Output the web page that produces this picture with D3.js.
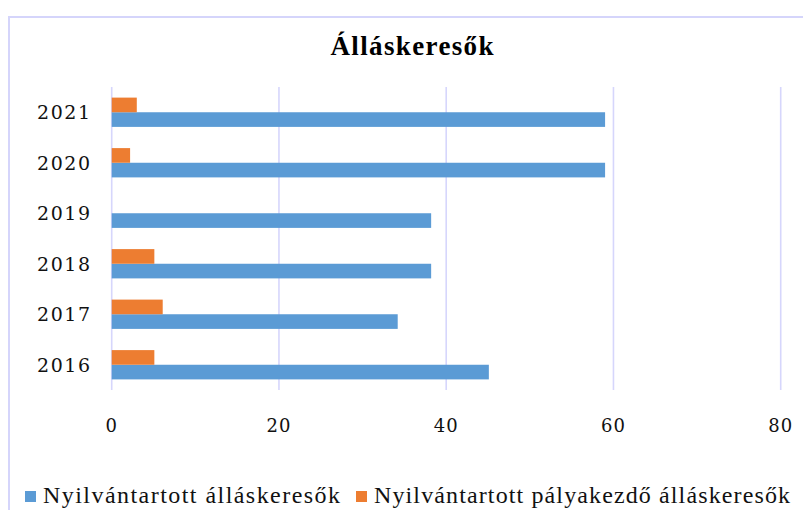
<!DOCTYPE html>
<html>
<head>
<meta charset="utf-8">
<script src="https://cdn.jsdelivr.net/npm/d3@7"></script>
<style>
  body { margin: 0; background: #fff; }
  svg { display: block; }
  .serif { font-family: "Liberation Serif", "Times New Roman", "DejaVu Serif", serif; }
  .digits { font-family: "DejaVu Serif", "Liberation Serif", serif; }
</style>
</head>
<body>
<script>
// data
var years = ["2016", "2017", "2018", "2019", "2020", "2021"];
var registered = [45.1, 34.2, 38.2, 38.2, 59, 59];      // Nyilvántartott álláskeresők
var newcomers = [5.1, 6.1, 5.1, 0, 2.2, 3.0];           // Nyilvántartott pályakezdő álláskeresők
var xTicks = [0, 20, 40, 60, 80];
var seriesNames = ["Nyilvántartott álláskeresők", "Nyilvántartott pályakezdő álláskeresők"];
var colors = ["#5b9bd5", "#ed7d31"];

var width = 803, height = 510;

var svg = d3.select("body").append("svg")
    .attr("width", width)
    .attr("height", height);

// chart frame (right & bottom edges fall outside the picture)
svg.append("rect")
    .attr("x", 9).attr("y", 17)
    .attr("width", 900).attr("height", 600)
    .attr("fill", "none")
    .attr("stroke", "#d5d5fb")
    .attr("stroke-width", 2);

// title
svg.append("text")
    .attr("class", "serif")
    .attr("x", 412).attr("y", 55)
    .attr("text-anchor", "middle")
    .attr("font-weight", "bold")
    .attr("font-size", 27)
    .attr("textLength", 163)
    .attr("lengthAdjust", "spacing")
    .text("Álláskeresők");

var x = d3.scaleLinear().domain([0, 80]).range([111.7, 780.7]);

var y = d3.scaleBand()
    .domain(years.slice().reverse())
    .range([87, 390])
    .paddingInner(0.42)
    .paddingOuter(0.21);

// gridlines
svg.append("g").selectAll("line")
    .data(xTicks)
    .enter()
    .append("line")
    .attr("x1", d => x(d)).attr("x2", d => x(d))
    .attr("y1", 87).attr("y2", 390)
    .attr("stroke", "#d6d6fc")
    .attr("stroke-width", 1.6);

var half = y.bandwidth() / 2;

// blue bars (lower half of each band)
svg.append("g").selectAll("rect")
    .data(years)
    .enter()
    .append("rect")
    .attr("x", x(0))
    .attr("y", d => y(d) + half)
    .attr("width", (d, i) => x(registered[i]) - x(0))
    .attr("height", half)
    .attr("fill", colors[0]);

// orange bars (upper half)
svg.append("g").selectAll("rect")
    .data(years)
    .enter()
    .append("rect")
    .attr("x", x(0))
    .attr("y", d => y(d))
    .attr("width", (d, i) => x(newcomers[i]) - x(0))
    .attr("height", half)
    .attr("fill", colors[1]);

// year labels
svg.append("g").selectAll("text")
    .data(years)
    .enter()
    .append("text")
    .attr("class", "digits")
    .attr("x", 90)
    .attr("y", d => y(d) + half + 7)
    .attr("text-anchor", "end")
    .attr("font-size", 19)
    .attr("textLength", 53)
    .attr("lengthAdjust", "spacing")
    .attr("fill", "#111")
    .text(d => d);

// x tick labels
svg.append("g").selectAll("text")
    .data(xTicks)
    .enter()
    .append("text")
    .attr("class", "digits")
    .attr("x", d => x(d))
    .attr("y", 432)
    .attr("text-anchor", "middle")
    .attr("font-size", 18)
    .attr("letter-spacing", 1)
    .attr("fill", "#111")
    .text(d => d);

// legend
var legendX = [25, 356];
var legendLen = [297, 416];
var lg = svg.append("g").selectAll("g")
    .data(seriesNames)
    .enter()
    .append("g");

lg.append("rect")
    .attr("x", (d, i) => legendX[i])
    .attr("y", 491)
    .attr("width", 11).attr("height", 11)
    .attr("fill", (d, i) => colors[i]);

lg.append("text")
    .attr("class", "serif")
    .attr("x", (d, i) => legendX[i] + 18)
    .attr("y", 503)
    .attr("font-size", 24)
    .attr("textLength", (d, i) => legendLen[i])
    .attr("lengthAdjust", "spacing")
    .attr("fill", "#111")
    .text(d => d);
</script>
</body>
</html>
